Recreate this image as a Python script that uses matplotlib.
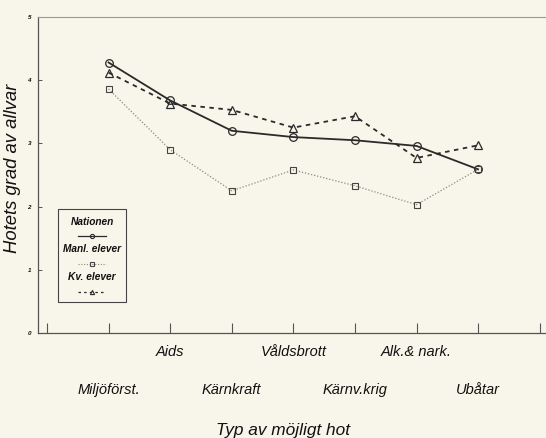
import matplotlib
matplotlib.use("Agg")
import matplotlib.pyplot as plt
from matplotlib.lines import Line2D
from matplotlib.patches import Rectangle

categories = ["Miljöförst.", "Aids", "Kärnkraft", "Våldsbrott", "Kärnv.krig", "Alk.& nark.", "Ubåtar"]
nationen = [4.28, 3.68, 3.20, 3.10, 3.05, 2.96, 2.59]
manl_elever = [3.86, 2.90, 2.25, 2.58, 2.33, 2.03, 2.59]
kv_elever = [4.12, 3.63, 3.53, 3.25, 3.43, 2.77, 2.97]
yticks = [0, 1, 2, 3, 4, 5]
series_names = ["Nationen", "Manl. elever", "Kv. elever"]

bg = "#f8f6ea"
ink = "#2a2a2a"
font = "Liberation Sans"

fig = plt.figure(figsize=(5.46, 4.38), dpi=100, facecolor=bg)
ax = fig.add_axes([38/546, 105/438, 514/546, 316/438], facecolor=bg)

x = list(range(1, len(categories) + 1))
ax.plot(x, nationen, color=ink, lw=1.3, ls="-", marker="o", ms=5.5,
        mfc="none", mec=ink, mew=0.9, zorder=3)
ax.plot(x, manl_elever, color="#8a8a7a", lw=0.9, ls=(0, (1, 1.5)), marker="s", ms=5,
        mfc="none", mec="#444444", mew=0.8, zorder=3)
ax.plot(x, kv_elever, color=ink, lw=1.3, ls=(0, (2.5, 2.5)), marker="^", ms=6,
        mfc="none", mec=ink, mew=0.9, zorder=3)

ax.set_xlim(-0.146, 8.2)
ax.set_ylim(0, 5)

ax.set_xticks(range(0, 9))
labels = [""] + categories + [""]
ax.set_xticklabels(labels, fontfamily=font, fontstyle="italic", fontsize=10.5, color="#111111")
for i, t in enumerate(ax.xaxis.get_major_ticks()):
    if i in (2, 4, 6):
        t.set_pad(9)
    else:
        t.set_pad(36)
ax.tick_params(axis="x", direction="in", length=7.5, width=0.8, color="#555555")

ax.set_yticks(yticks)
ax.set_yticklabels([str(v) for v in yticks], fontfamily=font, fontstyle="italic",
                   fontweight="bold", fontsize=4.5, color="#111111")
ax.tick_params(axis="y", direction="in", length=3, width=0.7, color="#555555", pad=5)

for s in ["left", "bottom"]:
    ax.spines[s].set_color("#555555")
    ax.spines[s].set_linewidth(0.9)
ax.spines["top"].set_color("#9a9a90")
ax.spines["top"].set_linewidth(0.8)
ax.spines["right"].set_visible(False)

def fx(px):
    return px / 546
def fy(py):
    return 1 - py / 438

fig.text(fx(13), fy(168), "Hotets grad av allvar", fontfamily=font, fontstyle="italic",
         fontsize=13.3, color="#111111", rotation=90, ha="center", va="center")
fig.text(fx(283), fy(430), "Typ av möjligt hot", fontfamily=font,
         fontstyle="italic", fontsize=12.4, color="#111111", ha="center", va="center")

# legend drawn manually in figure pixel coords
fig.patches.append(Rectangle((fx(58), fy(302)), fx(126) - fx(58), fy(209) - fy(302),
                             transform=fig.transFigure, fill=False, ec="#444444", lw=0.8))
cx = 92
lfont = dict(fontfamily=font, fontstyle="italic", fontweight="bold", fontsize=7.3,
             color="#111111", ha="center", va="center")
fig.text(fx(cx), fy(222), series_names[0], **lfont)
fig.text(fx(cx), fy(249), series_names[1], **lfont)
fig.text(fx(cx), fy(277), series_names[2], **lfont)
fig.lines.append(Line2D([fx(78), fx(106)], [fy(236), fy(236)], transform=fig.transFigure,
                        color=ink, lw=0.9, marker=None))
fig.lines.append(Line2D([fx(cx)], [fy(236)], transform=fig.transFigure, marker="o", ms=3,
                        mfc="none", mec=ink, mew=0.8))
fig.lines.append(Line2D([fx(78), fx(106)], [fy(264), fy(264)], transform=fig.transFigure,
                        color="#8a8a7a", lw=0.8, ls=(0, (1, 1.5))))
fig.lines.append(Line2D([fx(cx)], [fy(264)], transform=fig.transFigure, marker="s", ms=3.5,
                        mfc="none", mec="#444444", mew=0.8))
fig.lines.append(Line2D([fx(78), fx(106)], [fy(292), fy(292)], transform=fig.transFigure,
                        color=ink, lw=0.9, ls=(0, (2, 2.5))))
fig.lines.append(Line2D([fx(cx)], [fy(292)], transform=fig.transFigure, marker="^", ms=3,
                        mfc="none", mec=ink, mew=0.8))

fig.savefig("out.png", dpi=100, facecolor=bg)
